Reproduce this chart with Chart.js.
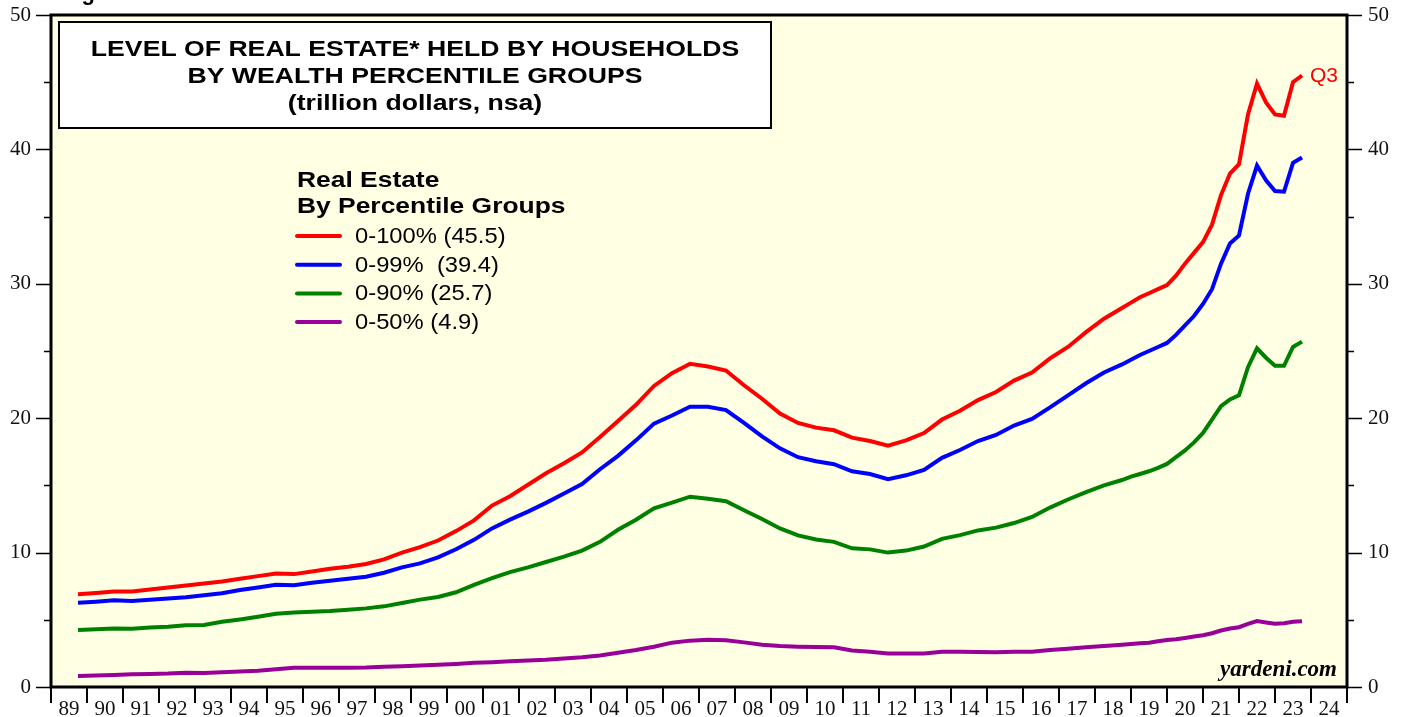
<!DOCTYPE html>
<html>
<head>
<meta charset="utf-8">
<script src="https://cdn.jsdelivr.net/npm/chart.js@4.4.1/dist/chart.umd.min.js"></script>
<style>
  html, body { margin: 0; padding: 0; background: #fff; }
</style>
</head>
<body>
<canvas id="chart" width="1407" height="717"></canvas>
<script>
// Quarter of each observation (semi-annual readings to 2018, quarterly after)
const quarters = [
  '1989Q3',
  '1990Q1','1990Q3','1991Q1','1991Q3','1992Q1','1992Q3','1993Q1','1993Q3',
  '1994Q1','1994Q3','1995Q1','1995Q3','1996Q1','1996Q3','1997Q1','1997Q3',
  '1998Q1','1998Q3','1999Q1','1999Q3','2000Q1','2000Q3','2001Q1','2001Q3',
  '2002Q1','2002Q3','2003Q1','2003Q3','2004Q1','2004Q3','2005Q1','2005Q3',
  '2006Q1','2006Q3','2007Q1','2007Q3','2008Q1','2008Q3','2009Q1','2009Q3',
  '2010Q1','2010Q3','2011Q1','2011Q3','2012Q1','2012Q3','2013Q1','2013Q3',
  '2014Q1','2014Q3','2015Q1','2015Q3','2016Q1','2016Q3','2017Q1','2017Q3',
  '2018Q1','2018Q3',
  '2018Q4',
  '2019Q1','2019Q2','2019Q3','2019Q4',
  '2020Q1','2020Q2','2020Q3','2020Q4',
  '2021Q1','2021Q2','2021Q3','2021Q4',
  '2022Q1','2022Q2','2022Q3','2022Q4',
  '2023Q1','2023Q2','2023Q3'
];

// Real estate held (trillion dollars), by percentile group
const pct0to100 = [
  6.9,
  7.0, 7.1, 7.1, 7.25, 7.4, 7.55, 7.7, 7.85,
  8.05, 8.25, 8.45, 8.4, 8.6, 8.8, 8.95, 9.15,
  9.5, 10.0, 10.4, 10.9, 11.6, 12.4, 13.5, 14.2,
  15.05, 15.9, 16.65, 17.45, 18.6, 19.8, 21.0, 22.4,
  23.35, 24.05, 23.85, 23.55, 22.45, 21.45, 20.35, 19.65,
  19.3, 19.1, 18.55, 18.3, 17.95, 18.35, 18.9, 19.9,
  20.55, 21.35, 21.95, 22.8, 23.4, 24.45, 25.3, 26.4,
  27.4, 28.2,
  28.6,
  29.0, 29.3, 29.6, 29.9,
  30.6, 31.5, 32.3, 33.1,
  34.4, 36.6, 38.2, 38.9,
  42.6, 44.9, 43.5, 42.6,
  42.5, 45.0, 45.5
];
const pct0to99 = [
  6.27,
  6.35, 6.45, 6.4, 6.5, 6.58, 6.68, 6.82, 6.98,
  7.22, 7.4, 7.6, 7.57, 7.75, 7.9, 8.05, 8.2,
  8.5, 8.9, 9.2, 9.65, 10.25, 10.95, 11.8, 12.45,
  13.05, 13.7, 14.4, 15.1, 16.2, 17.2, 18.35, 19.6,
  20.2, 20.86, 20.85, 20.6, 19.65, 18.65, 17.76, 17.1,
  16.8, 16.58, 16.05, 15.85, 15.47, 15.75, 16.15, 17.05,
  17.63, 18.3, 18.75, 19.45, 19.95, 20.8, 21.7, 22.6,
  23.4, 24.0,
  24.35,
  24.7, 25.0, 25.3, 25.6,
  26.2, 26.9, 27.6, 28.5,
  29.6, 31.5, 33.0, 33.6,
  36.7, 38.8, 37.7, 36.9,
  36.85, 39.0, 39.4
];
const pct0to90 = [
  4.24,
  4.3, 4.36, 4.34, 4.42, 4.49, 4.6, 4.62, 4.85,
  5.02, 5.22, 5.45, 5.55, 5.6, 5.65, 5.75, 5.85,
  6.0, 6.25, 6.5, 6.7, 7.05, 7.6, 8.1, 8.55,
  8.9, 9.3, 9.7, 10.15, 10.8, 11.7, 12.45, 13.3,
  13.72, 14.16, 14.0, 13.82, 13.15, 12.5, 11.8, 11.28,
  10.98, 10.8, 10.32, 10.24, 10.0, 10.15, 10.45, 11.02,
  11.3, 11.65, 11.86, 12.2, 12.65, 13.35, 13.95, 14.5,
  15.0, 15.4,
  15.65,
  15.85, 16.05, 16.3, 16.6,
  17.1, 17.6, 18.2, 18.9,
  19.9, 20.9, 21.4, 21.7,
  23.8, 25.2, 24.5, 23.9,
  23.9, 25.3, 25.7
];
const pct0to50 = [
  0.82,
  0.85, 0.9, 0.94, 0.97, 1.0, 1.06, 1.05, 1.1,
  1.15, 1.21, 1.32, 1.44, 1.44, 1.44, 1.44, 1.45,
  1.5, 1.55, 1.6, 1.66, 1.72, 1.8, 1.85, 1.92,
  1.97, 2.03, 2.12, 2.22, 2.35, 2.55, 2.75, 3.0,
  3.3, 3.45, 3.52, 3.48, 3.32, 3.15, 3.05, 3.0,
  2.97, 2.95, 2.72, 2.62, 2.5, 2.5, 2.5, 2.62,
  2.63, 2.6, 2.58, 2.62, 2.62, 2.75, 2.85, 2.95,
  3.05, 3.15,
  3.2,
  3.25, 3.3, 3.4, 3.5,
  3.55, 3.65, 3.75, 3.85,
  4.0, 4.2, 4.35, 4.45,
  4.7, 4.9, 4.8, 4.7,
  4.75, 4.85, 4.9
];

const seriesLabels = ['0-100% (45.5)', '0-99%  (39.4)', '0-90% (25.7)', '0-50% (4.9)'];
const seriesColors = ['#ff0000', '#0000ff', '#008000', '#990099'];
const yearLabels = ['89','90','91','92','93','94','95','96','97','98','99','00',
  '01','02','03','04','05','06','07','08','09','10','11','12','13','14','15',
  '16','17','18','19','20','21','22','23','24'];
const yTicks = [0, 10, 20, 30, 40, 50];
const yMinorTicks = [5, 15, 25, 35, 45];
const titleLines = ['LEVEL OF REAL ESTATE* HELD BY HOUSEHOLDS', 'BY WEALTH PERCENTILE GROUPS', '(trillion dollars, nsa)'];
const legendTitle = ['Real Estate', 'By Percentile Groups'];

const firstYear = 1989;
const lastYear = 2025;

// "1995Q3" -> 1995.75 (end of quarter)
function quarterToX(q) {
  return parseInt(q.slice(0, 4)) + parseInt(q.slice(5)) / 4;
}

function toPoints(values) {
  return values.map((v, i) => ({ x: quarterToX(quarters[i]), y: v }));
}

const allSeries = [pct0to100, pct0to99, pct0to90, pct0to50];

const serif = '"Liberation Serif", "Times New Roman", serif';
const sans = '"Liberation Sans", Arial, sans-serif';

// the original lettering is a bit wider than Arial, so stretch it sideways
function wideText(ctx, text, x, y, stretch) {
  ctx.save();
  ctx.translate(x, y);
  ctx.scale(stretch, 1);
  ctx.fillText(text, 0, 0);
  ctx.restore();
}

// Background, frame, ticks and annotation boxes
const decorPlugin = {
  id: 'decor',
  beforeDraw(chart) {
    const { ctx, chartArea: a } = chart;
    ctx.save();
    ctx.fillStyle = '#ffffff';
    ctx.fillRect(0, 0, chart.width, chart.height);
    ctx.fillStyle = '#ffffe3';
    ctx.fillRect(a.left, a.top, a.right - a.left, a.bottom - a.top);
    ctx.restore();
  },
  afterDraw(chart) {
    const { ctx, chartArea: a } = chart;
    const xs = chart.scales.x;
    const ys = chart.scales.y;
    ctx.save();

    // tick marks
    ctx.strokeStyle = '#000';
    ctx.lineWidth = 1.5;
    ctx.beginPath();
    yTicks.forEach(v => {
      const py = Math.round(ys.getPixelForValue(v)) + 0.5;
      ctx.moveTo(a.left - 15, py); ctx.lineTo(a.left, py);
      ctx.moveTo(a.right, py); ctx.lineTo(a.right + 15, py);
    });
    yMinorTicks.forEach(v => {
      const py = Math.round(ys.getPixelForValue(v)) + 0.5;
      ctx.moveTo(a.left - 7, py); ctx.lineTo(a.left, py);
      ctx.moveTo(a.right, py); ctx.lineTo(a.right + 7, py);
    });
    ctx.stroke();
    ctx.lineWidth = 2;
    ctx.beginPath();
    for (let yr = firstYear; yr <= lastYear; yr++) {
      const px = Math.round(xs.getPixelForValue(yr));
      ctx.moveTo(px, a.bottom); ctx.lineTo(px, a.bottom + 16);
    }
    ctx.stroke();

    // plot frame
    ctx.lineWidth = 3;
    ctx.strokeRect(a.left, a.top, a.right - a.left, a.bottom - a.top);

    // clipped figure caption above the frame
    ctx.fillStyle = '#000';
    ctx.font = 'bold 22px ' + sans;
    ctx.textAlign = 'left';
    ctx.textBaseline = 'alphabetic';
    ctx.fillText('Figure', 62, 0);

    // title box
    ctx.fillStyle = '#ffffff';
    ctx.fillRect(59, 22, 712, 106);
    ctx.lineWidth = 2;
    ctx.strokeRect(59, 22, 712, 106);
    ctx.fillStyle = '#000';
    ctx.font = 'bold 22px ' + sans;
    ctx.textAlign = 'center';
    wideText(ctx, titleLines[0], 415, 56, 1.21);
    wideText(ctx, titleLines[1], 415, 83, 1.21);
    wideText(ctx, titleLines[2], 415, 110, 1.21);

    // legend
    ctx.textAlign = 'left';
    ctx.font = 'bold 22px ' + sans;
    wideText(ctx, legendTitle[0], 297, 187, 1.2);
    wideText(ctx, legendTitle[1], 297, 213, 1.2);
    ctx.font = '22px ' + sans;
    ctx.textBaseline = 'middle';
    seriesLabels.forEach((lab, i) => {
      const ly = 236 + i * 28.7;
      ctx.strokeStyle = seriesColors[i];
      ctx.lineWidth = 4;
      ctx.lineCap = 'round';
      ctx.beginPath();
      ctx.moveTo(297, ly); ctx.lineTo(340, ly);
      ctx.stroke();
      ctx.fillStyle = '#000';
      wideText(ctx, lab, 355, ly + 1, 1.08);
    });

    // last-quarter tag
    const last = quarters.length - 1;
    ctx.fillStyle = '#ff0000';
    ctx.font = '21px ' + sans;
    ctx.fillText('Q3', xs.getPixelForValue(quarterToX(quarters[last])) + 8,
      ys.getPixelForValue(pct0to100[last]) + 1);

    // source
    ctx.fillStyle = '#000';
    ctx.font = 'italic bold 23px ' + serif;
    ctx.textAlign = 'right';
    ctx.textBaseline = 'alphabetic';
    ctx.fillText('yardeni.com', a.right - 10, a.bottom - 11);
    ctx.restore();
  }
};

// drop the label overhang padding so the plot box lands where the original does
function noPad(s) {
  s.paddingTop = 0; s.paddingBottom = 0; s.paddingLeft = 0; s.paddingRight = 0;
}

const yAxisCommon = {
  min: 0,
  max: 50,
  afterBuildTicks: s => { s.ticks = yTicks.map(v => ({ value: v })); },
  grid: { display: false, drawTicks: false },
  border: { display: false },
  ticks: { font: { family: serif, size: 21 }, color: '#111' }
};

new Chart(document.getElementById('chart'), {
  type: 'line',
  data: {
    datasets: allSeries.map((vals, i) => ({
      label: seriesLabels[i],
      data: toPoints(vals),
      borderColor: seriesColors[i],
      borderWidth: 4,
      pointRadius: 0,
      tension: 0,
      fill: false
    }))
  },
  options: {
    responsive: false,
    animation: false,
    devicePixelRatio: 1,
    layout: { padding: { top: 15, left: 0, right: 0, bottom: 0 } },
    plugins: {
      legend: { display: false },
      tooltip: { enabled: false }
    },
    scales: {
      x: {
        type: 'linear',
        min: firstYear,
        max: lastYear,
        afterBuildTicks: s => { s.ticks = yearLabels.map((l, i) => ({ value: firstYear + 0.5 + i })); },
        afterFit: s => { s.height = 30; noPad(s); },
        grid: { display: false, drawTicks: false },
        border: { display: false },
        ticks: {
          autoSkip: false,
          maxRotation: 0,
          padding: 10,
          font: { family: serif, size: 21 },
          color: '#111',
          callback: (v, i) => yearLabels[i]
        }
      },
      y: Object.assign({}, yAxisCommon, {
        position: 'left',
        afterFit: s => { s.width = 51; noPad(s); },
        ticks: Object.assign({}, yAxisCommon.ticks, { padding: 20 })
      }),
      y2: Object.assign({}, yAxisCommon, {
        position: 'right',
        afterFit: s => { s.width = 60; noPad(s); },
        ticks: Object.assign({}, yAxisCommon.ticks, { padding: 21 })
      })
    }
  },
  plugins: [decorPlugin]
});
</script>
</body>
</html>
